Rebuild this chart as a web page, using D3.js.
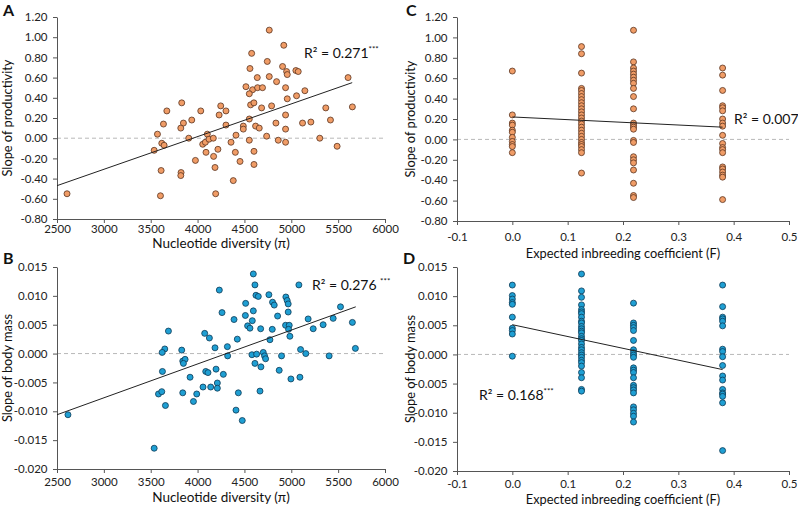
<!DOCTYPE html>
<html>
<head>
<meta charset="utf-8">
<script src="https://cdn.jsdelivr.net/npm/d3@7"></script>
<style>
  body { margin: 0; background: #fff; }
  svg { font-family: Lato, "Open Sans", sans-serif; }
</style>
</head>
<body>
<div id="chart"></div>
<script>
// ---- data ----
// A: nucleotide diversity vs slope of productivity
const productivityByDiversity = [
  [4765,1.07],[4920,0.92],[4577,0.84],[4744,0.76],[4907,0.71],[4559,0.69],[4950,0.66],[4957,0.63],
  [5049,0.67],[5074,0.66],[5606,0.60],[4637,0.60],[4765,0.61],[4843,0.56],[4516,0.51],[4587,0.48],
  [4640,0.50],[4693,0.50],[4939,0.50],[5145,0.47],[4552,0.44],[3831,0.35],[4566,0.33],[4601,0.35],
  [4790,0.32],[4957,0.39],[5056,0.42],[5368,0.30],[5652,0.31],[3672,0.27],[4034,0.27],[4247,0.32],
  [4303,0.27],[4230,0.23],[4683,0.30],[4939,0.23],[4552,0.19],[3938,0.18],[3636,0.14],[3849,0.15],
  [3821,0.10],[4303,0.13],[4488,0.12],[4619,0.12],[4658,0.10],[4836,0.15],[5120,0.15],[5209,0.16],
  [5418,0.18],[4939,0.09],[4488,0.09],[3572,0.04],[3537,-0.12],[3618,-0.05],[3643,-0.07],[3906,0.00],
  [4055,-0.06],[4083,-0.04],[4104,0.04],[4122,-0.01],[4168,0.00],[4090,-0.14],[4171,-0.18],[4217,-0.11],
  [3977,-0.22],[3611,-0.32],[3824,-0.34],[3821,-0.37],[4186,-0.29],[3604,-0.57],[4193,-0.55],[2607,-0.55],
  [4357,-0.04],[4410,0.03],[4403,-0.14],[4381,-0.42],[4453,-0.23],[4552,-0.02],[4602,-0.26],[4602,-0.13],
  [4737,0.02],[4861,-0.02],[4939,-0.04],[5304,0.00],[5489,-0.08]
];
// B: nucleotide diversity vs slope of body mass
const bodyMassByDiversity = [
  [4595,0.0138],[4612,0.0119],[5081,0.0119],[4232,0.0110],[4623,0.0101],[4648,0.0099],[4761,0.0102],
  [4942,0.0098],[4956,0.0092],[4800,0.0089],[4818,0.0084],[4967,0.0086],[4513,0.0087],[5525,0.0081],
  [4595,0.0074],[4261,0.0071],[4967,0.0072],[4510,0.0066],[4854,0.0065],[4584,0.0057],[4389,0.0059],
  [5180,0.0060],[5447,0.0061],[5652,0.0054],[4534,0.0048],[4939,0.0049],[4978,0.0049],[4559,0.0044],
  [4673,0.0043],[4797,0.0042],[4971,0.0042],[5234,0.0043],[5340,0.0050],[4985,0.0030],[3689,0.0039],
  [4076,0.0035],[4126,0.0027],[4424,0.0025],[4772,0.0024],[4186,0.0010],[4318,0.0012],[3650,0.0008],
  [3622,0.0002],[3831,0.0006],[4321,-0.0004],[4580,-0.0002],[4630,-0.0001],[4701,0.0002],[4715,-0.0004],
  [4726,-0.0009],[4896,-0.0004],[5099,0.0007],[5155,0.0000],[5404,-0.0004],[5684,0.0009],[3842,-0.0013],
  [3867,-0.0010],[3849,-0.0017],[4612,-0.0017],[4676,-0.0023],[4197,-0.0027],[4871,-0.0029],[3625,-0.0031],
  [4087,-0.0031],[4111,-0.0033],[4275,-0.0036],[3920,-0.0041],[4996,-0.0044],[5092,-0.0041],
  [3583,-0.0070],[3618,-0.0066],[3657,-0.0090],[3842,-0.0068],[3956,-0.0083],[3991,-0.0070],[4058,-0.0058],
  [4140,-0.0058],[4211,-0.0051],[4211,-0.0060],[4435,-0.0068],[4410,-0.0098],[4477,-0.0116],[4666,-0.0065],
  [3537,-0.0164],[2617,-0.0106]
];
// C, D: expected inbreeding coefficient groups
const inbreedingLevels = [0, 0.125, 0.219, 0.38];
const productivityByF = [
  [0.67, 0.24, 0.16, 0.14, 0.09, 0.07, 0.02, -0.02, -0.05, -0.07, -0.13],
  [0.91, 0.84, 0.65, 0.50, 0.48, 0.45, 0.42, 0.39, 0.36, 0.33, 0.30, 0.27, 0.24, 0.21, 0.18, 0.15,
   0.12, 0.09, 0.06, 0.03, 0.00, -0.03, -0.05, -0.07, -0.10, -0.13, -0.33],
  [1.07, 0.76, 0.70, 0.67, 0.64, 0.61, 0.58, 0.55, 0.50, 0.42, 0.30, 0.16, 0.14, 0.12, 0.10, -0.01,
   -0.03, -0.17, -0.20, -0.23, -0.30, -0.43, -0.55, -0.57],
  [0.70, 0.63, 0.48, 0.33, 0.31, 0.28, 0.20, 0.16, 0.13, 0.04, -0.04, -0.08, -0.10, -0.13, -0.27,
   -0.29, -0.32, -0.35, -0.37, -0.59]
];
const bodyMassByF = [
  [0.0119, 0.0101, 0.0095, 0.0089, 0.0086, 0.0064, 0.0045, 0.0041, 0.0035, -0.0003],
  [0.0138, 0.0109, 0.0098, 0.0085, 0.0077, 0.0073, 0.0070, 0.0064, 0.0057, 0.0054, 0.0048, 0.0044,
   0.0040, 0.0037, 0.0031, 0.0027, 0.0024, 0.0018, 0.0012, 0.0008, 0.0003, -0.0001, -0.0005, -0.0010,
   -0.0014, -0.0020, -0.0031, -0.0040, -0.0060, -0.0063],
  [0.0088, 0.0054, 0.0050, 0.0046, 0.0041, 0.0024, 0.0008, 0.0003, -0.0001, -0.0005, -0.0023, -0.0027,
   -0.0031, -0.0040, -0.0053, -0.0057, -0.0061, -0.0066, -0.0090, -0.0095, -0.0101, -0.0106, -0.0116],
  [0.0119, 0.0082, 0.0064, 0.0061, 0.0057, 0.0049, 0.0009, 0.0005, -0.0004, -0.0019, -0.0037, -0.0044,
   -0.0060, -0.0066, -0.0068, -0.0072, -0.0083, -0.0165]
];
// fitted trend lines (end points)
const fitA = [[2500, -0.47], [5650, 0.55]];
const fitB = [[2500, -0.0106], [5688, 0.0081]];
const fitC = [[0, 0.22], [0.38, 0.12]];
const fitD = [[0, 0.0051], [0.38, -0.0026]];
// ticks
const diversityTicks = [2500, 3000, 3500, 4000, 4500, 5000, 5500, 6000];
const inbreedingTicks = [-0.1, 0, 0.1, 0.2, 0.3, 0.4, 0.5];
const productivityTicks = [-0.8, -0.6, -0.4, -0.2, 0, 0.2, 0.4, 0.6, 0.8, 1.0, 1.2];
const bodyMassTicks = [-0.02, -0.015, -0.01, -0.005, 0, 0.005, 0.01, 0.015];

const width = 798, height = 506;
const svg = d3.select("#chart").append("svg")
  .attr("width", width).attr("height", height);

const orange = {fill: "#f09c66", stroke: "#5a3420"};
const blue = {fill: "#1f9fd3", stroke: "#0d3a55"};

// flatten grouped values into [F, value] pairs
function byLevel(groups) {
  const out = [];
  groups.forEach((vals, i) => vals.forEach(v => out.push([inbreedingLevels[i], v])));
  return out;
}

function drawPanel(p) {
  const x = d3.scaleLinear().domain(d3.extent(p.xTicks)).range([p.left, p.right]);
  const y = d3.scaleLinear().domain(d3.extent(p.yTicks)).range([p.bottom, p.top]);
  const g = svg.append("g");

  // dashed zero line
  g.append("line")
    .attr("x1", p.left).attr("x2", p.right)
    .attr("y1", y(0)).attr("y2", y(0))
    .style("stroke", "#b8b8b8").style("stroke-dasharray", "4,3");

  const yAxis = g.append("g")
    .attr("transform", `translate(${p.left},0)`)
    .call(d3.axisLeft(y).tickValues(p.yTicks).tickFormat(d => d.toFixed(p.yDec))
      .tickSize(4).tickSizeOuter(0).tickPadding(5.5));
  const xAxis = g.append("g")
    .attr("transform", `translate(0,${p.bottom})`)
    .call(d3.axisBottom(x).tickValues(p.xTicks).tickFormat(d => d.toFixed(p.xDec))
      .tickSize(4).tickSizeOuter(0).tickPadding(p.xPad));
  [xAxis, yAxis].forEach(a => {
    a.select(".domain").style("stroke", "#555");
    a.selectAll(".tick line").style("stroke", "#555");
    a.selectAll("text").style("font-family", "Lato").style("font-size", "11.5px").style("fill", "#222");
  });

  // points
  g.append("g").selectAll("circle")
    .data(p.points)
    .enter().append("circle")
    .attr("cx", d => x(d[0]))
    .attr("cy", d => y(d[1]))
    .attr("r", 3)
    .style("fill", p.color.fill)
    .style("stroke", p.color.stroke)
    .style("stroke-width", 0.8);

  // trend line
  g.append("line")
    .attr("x1", x(p.fit[0][0])).attr("y1", y(p.fit[0][1]))
    .attr("x2", x(p.fit[1][0])).attr("y2", y(p.fit[1][1]))
    .style("stroke", "#222").style("stroke-width", 1);

  // axis titles
  g.append("text")
    .attr("x", (p.left + p.right) / 2).attr("y", p.xTitleY)
    .attr("text-anchor", "middle")
    .style("font-size", p.xTitleSize).style("fill", "#111")
    .text(p.xTitle);
  g.append("text")
    .attr("transform", `translate(${p.yTitleX},${(p.top + p.bottom) / 2}) rotate(-90)`)
    .attr("text-anchor", "middle")
    .style("font-size", "12.8px").style("fill", "#111")
    .text(p.yTitle);

  // panel letter
  g.append("text")
    .attr("x", p.letterX).attr("y", p.letterY)
    .style("font-size", "16px").style("font-weight", "bold").style("fill", "#111")
    .text(p.letter);

  // R² label
  const r = g.append("text")
    .attr("x", p.r2X).attr("y", p.r2Y)
    .style("font-size", "14px").style("fill", "#111");
  r.append("tspan").text(p.r2);
  if (p.stars) {
    r.append("tspan").attr("dy", -6).style("font-size", "8px").text(p.stars);
  }
}

drawPanel({
  letter: "A", letterX: 3, letterY: 16,
  left: 57, right: 385, top: 17, bottom: 219,
  xTicks: diversityTicks, yTicks: productivityTicks, xDec: 0, yDec: 2, xPad: 1.5,
  points: productivityByDiversity, fit: fitA, color: orange,
  xTitle: "Nucleotide diversity (π)", xTitleY: 247.5, xTitleSize: "13.5px",
  yTitle: "Slope of productivity", yTitleX: 12,
  r2: "R² = 0.271", stars: "***", r2X: 304, r2Y: 58
});
drawPanel({
  letter: "B", letterX: 3, letterY: 264,
  left: 57, right: 385, top: 267, bottom: 469,
  xTicks: diversityTicks, yTicks: bodyMassTicks, xDec: 0, yDec: 3, xPad: 5,
  points: bodyMassByDiversity, fit: fitB, color: blue,
  xTitle: "Nucleotide diversity (π)", xTitleY: 502, xTitleSize: "13.5px",
  yTitle: "Slope of body mass", yTitleX: 12,
  r2: "R² = 0.276 ", stars: "***", r2X: 312, r2Y: 290
});
drawPanel({
  letter: "C", letterX: 406, letterY: 16,
  left: 457, right: 789, top: 17, bottom: 221,
  xTicks: inbreedingTicks, yTicks: productivityTicks, xDec: 1, yDec: 2, xPad: 8,
  points: byLevel(productivityByF), fit: fitC, color: orange,
  xTitle: "Expected inbreeding coefficient (F)", xTitleY: 258, xTitleSize: "12.8px",
  yTitle: "Slope of productivity", yTitleX: 415,
  r2: "R² = 0.007", stars: "", r2X: 734, r2Y: 124
});
drawPanel({
  letter: "D", letterX: 403, letterY: 264,
  left: 457, right: 789, top: 267, bottom: 471,
  xTicks: inbreedingTicks, yTicks: bodyMassTicks, xDec: 1, yDec: 3, xPad: 4.5,
  points: byLevel(bodyMassByF), fit: fitD, color: blue,
  xTitle: "Expected inbreeding coefficient (F)", xTitleY: 503.5, xTitleSize: "12.8px",
  yTitle: "Slope of body mass", yTitleX: 415,
  r2: "R² = 0.168", stars: "***", r2X: 479, r2Y: 400
});
</script>
</body>
</html>
